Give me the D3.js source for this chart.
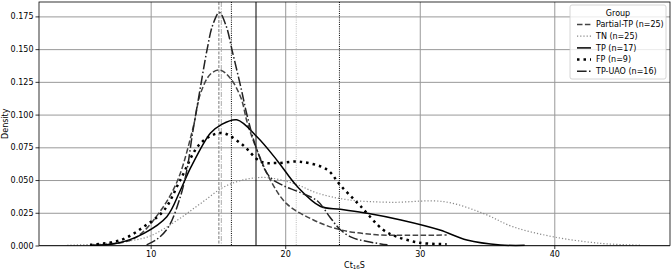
<!DOCTYPE html>
<html>
<head>
<meta charset="utf-8">
<script src="https://cdn.jsdelivr.net/npm/d3@7"></script>
<style>
  body { margin: 0; background: #fff; }
  text { font-family: "DejaVu Sans", sans-serif; }
</style>
</head>
<body>
<div class="chart"></div>
<script>
// density curves, [Ct16S, density]
var partialTP = [[7.0,0.001],[8.5,0.004],[9.5,0.011],[10.7,0.026],[11.5,0.039],[12.2,0.055],[13.2,0.092],[13.7,0.116],[14.45,0.131],[15.15,0.134],[15.9,0.128],[16.7,0.113],[17.2,0.093],[17.9,0.073],[18.9,0.050],[20.1,0.032],[22.1,0.0195],[24.1,0.012],[26.8,0.0082],[29.0,0.0078],[32.0,0.008]];
var tn = [[3.8,0.0002],[6.0,0.001],[8.0,0.003],[9.9,0.007],[12.0,0.0195],[13.7,0.032],[15.7,0.046],[18.2,0.052],[20.6,0.0475],[22.4,0.040],[24.6,0.035],[27.8,0.033],[31.8,0.0335],[34.7,0.0246],[36.9,0.0144],[39.9,0.0067],[43.4,0.0017],[46.5,0.0002]];
var tp = [[5.5,0.0002],[7.5,0.0017],[9.5,0.0093],[11.2,0.022],[12.2,0.042],[13.0,0.060],[14.45,0.086],[15.2,0.092],[16.4,0.096],[17.9,0.083],[19.4,0.065],[20.9,0.045],[22.6,0.030],[24.1,0.0277],[26.1,0.0246],[28.6,0.0195],[31.5,0.0118],[33.5,0.0042],[36.0,0.0004],[37.8,0.0001]];
var fp = [[5.5,0.0005],[7.8,0.0042],[9.5,0.0144],[11.0,0.027],[12.2,0.050],[13.7,0.078],[15.25,0.086],[16.7,0.078],[18.2,0.064],[19.4,0.063],[21.1,0.064],[23.1,0.058],[24.1,0.046],[25.6,0.030],[27.3,0.0118],[28.3,0.0067],[30.0,0.0021],[32.0,0.001]];
var tpUAO = [[9.7,0.0005],[10.5,0.005],[11.34,0.0144],[12.2,0.037],[12.7,0.058],[13.1,0.085],[13.6,0.115],[14.2,0.150],[14.6,0.168],[15.1,0.178],[15.6,0.168],[16.1,0.147],[16.7,0.121],[17.2,0.098],[17.9,0.073],[18.8,0.053],[19.8,0.046],[21.0,0.041],[22.4,0.034],[23.3,0.022],[24.1,0.012],[25.0,0.006],[26.1,0.003],[27.6,0.0005]];

var groups = ["Partial-TP (n=25)", "TN (n=25)", "TP (n=17)", "FP (n=9)", "TP-UAO (n=16)"];
var seriesData = [partialTP, tn, tp, fp, tpUAO];

// vertical reference lines (Ct16S)
var refValues = [15.07, 15.25, 16.0, 17.83, 20.82, 24.03];

var xTicks = [10, 20, 30, 40];
var yTicks = [0, 0.025, 0.05, 0.075, 0.1, 0.125, 0.15, 0.175];

// line styles per group
var styles = [
  { stroke: "#444", width: 1.5, dash: "5.5,2.4" },
  { stroke: "#888", width: 1.2, dash: "1.2,2" },
  { stroke: "#000", width: 1.5, dash: null },
  { stroke: "#000", width: 2.5, dash: "2.5,4" },
  { stroke: "#222", width: 1.5, dash: "9.6,2.4,1.5,2.4" }
];
var refStyles = [
  { stroke: "#777", dash: "3,1.5" },
  { stroke: "#aaa", dash: "5,1.5,1,1.5" },
  { stroke: "#000", dash: "1,1.2" },
  { stroke: "#000", dash: null },
  { stroke: "#bbb", dash: "1,1.2" },
  { stroke: "#000", dash: "1,1.2" }
];

var svgWidth = 671, svgHeight = 270;
var margin = { top: 2, right: 1, bottom: 24.5, left: 39 };
var width = svgWidth - margin.left - margin.right;
var height = svgHeight - margin.top - margin.bottom;

var svg = d3.select(".chart").append("svg")
  .attr("width", svgWidth)
  .attr("height", svgHeight);

var chartGroup = svg.append("g")
  .attr("transform", `translate(${margin.left}, ${margin.top})`);

var xScale = d3.scaleLinear().domain([1.7, 48.6]).range([0, width]);
var yScale = d3.scaleLinear().domain([0, 0.186]).range([height, 0]);

// gridlines
chartGroup.append("g")
  .attr("class", "grid")
  .call(d3.axisLeft(yScale).tickValues(yTicks).tickSize(-width).tickFormat(""))
  .call(g => g.select(".domain").remove())
  .call(g => g.selectAll("line").attr("stroke", "#999").attr("stroke-width", 1));

chartGroup.append("g")
  .attr("class", "grid")
  .attr("transform", `translate(0, ${height})`)
  .call(d3.axisBottom(xScale).tickValues(xTicks).tickSize(-height).tickFormat(""))
  .call(g => g.select(".domain").remove())
  .call(g => g.selectAll("line").attr("stroke", "#999").attr("stroke-width", 1));

// reference lines
chartGroup.selectAll(".ref")
  .data(refValues)
  .enter()
  .append("line")
  .attr("class", "ref")
  .attr("x1", d => xScale(d))
  .attr("x2", d => xScale(d))
  .attr("y1", 0)
  .attr("y2", height)
  .attr("stroke", (d, i) => refStyles[i].stroke)
  .attr("stroke-width", 1)
  .attr("stroke-dasharray", (d, i) => refStyles[i].dash);

// density curves
var valueline = d3.line()
  .curve(d3.curveCatmullRom.alpha(0.5))
  .x(d => xScale(d[0]))
  .y(d => yScale(d[1]));

chartGroup.selectAll(".kde")
  .data(seriesData)
  .enter()
  .append("path")
  .attr("class", "kde")
  .attr("d", valueline)
  .attr("fill", "none")
  .attr("stroke", (d, i) => styles[i].stroke)
  .attr("stroke-width", (d, i) => styles[i].width)
  .attr("stroke-dasharray", (d, i) => styles[i].dash);

// axes
var xAxis = chartGroup.append("g")
  .attr("transform", `translate(0, ${height})`)
  .call(d3.axisBottom(xScale).tickValues(xTicks).tickSize(3.5).tickPadding(2));
var yAxis = chartGroup.append("g")
  .call(d3.axisLeft(yScale).tickValues(yTicks).tickFormat(d3.format(".3f")).tickSize(3.5).tickPadding(2));
[xAxis, yAxis].forEach(function(a) {
  a.selectAll("text").style("font-size", "8px").attr("fill", "#000");
  a.selectAll("line").attr("stroke", "#000").attr("stroke-width", 0.8);
  a.select(".domain").remove();
});

// frame
chartGroup.append("rect")
  .attr("width", width)
  .attr("height", height)
  .attr("fill", "none")
  .attr("stroke", "#000")
  .attr("stroke-width", 0.8);

// axis labels
var xLabel = chartGroup.append("text")
  .attr("x", width / 2)
  .attr("y", height + 22)
  .style("text-anchor", "middle")
  .style("font-size", "8px");
xLabel.append("tspan").text("Ct");
xLabel.append("tspan").text("16").style("font-size", "5.5px").attr("dy", 1.5);
xLabel.append("tspan").text("S").attr("dy", -1.5);

chartGroup.append("text")
  .attr("transform", "rotate(-90)")
  .attr("x", -height / 2)
  .attr("y", -31)
  .style("text-anchor", "middle")
  .style("font-size", "8px")
  .text("Density");

// legend
var legend = svg.append("g").attr("transform", "translate(570, 5)");
legend.append("rect")
  .attr("width", 96)
  .attr("height", 74)
  .attr("rx", 2)
  .attr("fill", "#fff")
  .attr("fill-opacity", 0.8)
  .attr("stroke", "#ccc")
  .attr("stroke-width", 0.8);
legend.append("text")
  .attr("x", 48)
  .attr("y", 11)
  .style("text-anchor", "middle")
  .style("font-size", "8px")
  .text("Group");

groups.forEach(function(name, i) {
  var yy = 19.5 + i * 11.7;
  legend.append("line")
    .attr("x1", 7).attr("x2", 21)
    .attr("y1", yy).attr("y2", yy)
    .attr("stroke", styles[i].stroke)
    .attr("stroke-width", styles[i].width)
    .attr("stroke-dasharray", styles[i].dash);
  legend.append("text")
    .attr("x", 26)
    .attr("y", yy)
    .attr("dy", "0.35em")
    .style("font-size", "8px")
    .text(name);
});
</script>
</body>
</html>
